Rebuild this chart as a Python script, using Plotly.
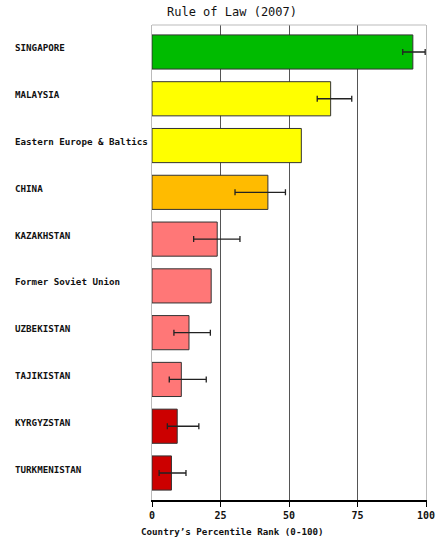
import plotly.graph_objects as go

categories = ["SINGAPORE", "MALAYSIA", "Eastern Europe & Baltics", "CHINA", "KAZAKHSTAN",
              "Former Soviet Union", "UZBEKISTAN", "TAJIKISTAN", "KYRGYZSTAN", "TURKMENISTAN"]
values = [95.2, 65.2, 54.5, 42.3, 23.8, 21.6, 13.5, 10.7, 9.2, 7.1]
err_low = [91.5, 60.3, None, 30.3, 15.2, None, 8.0, 6.3, 5.6, 2.6]
err_high = [99.7, 72.9, None, 48.7, 32.1, None, 21.3, 19.8, 17.1, 12.4]
colors = ["#00BB00", "#FFFF00", "#FFFF00", "#FFBB00", "#FF7777",
          "#FF7777", "#FF7777", "#FF7777", "#CC0000", "#CC0000"]
tick_vals = [0, 25, 50, 75, 100]
title_text = "Rule of Law (2007)"
x_title = "Country’s Percentile Rank (0-100)"

FONT = "DejaVu Sans Mono"

plus = [(h - v) if h is not None else 0 for v, h in zip(values, err_high)]
minus = [(v - l) if l is not None else 0 for v, l in zip(values, err_low)]
vis = [h is not None for h in err_high]

fig = go.Figure()
fig.add_trace(go.Bar(
    y=categories, x=values, orientation="h",
    marker=dict(color=colors, line=dict(color="#333333", width=1)),
    width=0.73, hoverinfo="skip",
))
ecats = [c for c, s in zip(categories, vis) if s]
evals = [v for v, s in zip(values, vis) if s]
eplus = [p for p, s in zip(plus, vis) if s]
eminus = [m for m, s in zip(minus, vis) if s]
fig.add_trace(go.Scatter(
    y=ecats, x=evals, mode="markers", marker=dict(size=0.1, color="rgba(0,0,0,0)"),
    error_x=dict(type="data", symmetric=False, array=eplus, arrayminus=eminus,
                 color="#222222", thickness=1.3, width=3),
    hoverinfo="skip", showlegend=False,
))

for c in categories:
    fig.add_annotation(x=(15 - 152) / 274, xref="paper", y=c, yref="y", text=c, showarrow=False,
                       xanchor="left", xshift=-2, yshift=4,
                       font=dict(family=FONT, size=9.2, color="#111", weight="bold"))

fig.add_annotation(text=x_title, xref="paper", yref="paper", x=(232 - 152) / 274, y=-31 / 475,
                   xanchor="center", yanchor="middle", showarrow=False,
                   font=dict(family=FONT, size=9.2, color="#111", weight="bold"))

fig.update_layout(
    width=436, height=539,
    margin=dict(l=152, r=10, t=25, b=39, autoexpand=False),
    paper_bgcolor="white", plot_bgcolor="white",
    showlegend=False,
    title=dict(text=title_text, x=232/436, xanchor="center", y=1-12/539, yanchor="middle",
               font=dict(family=FONT, size=12, color="#111")),
    font=dict(family=FONT, size=9, color="#111"),
)

fig.update_xaxes(range=[0, 100], tickvals=tick_vals, ticks="outside", ticklen=5, tickcolor="#000",
                 showline=True, linecolor="#000", linewidth=1.5, automargin=False,
                 showgrid=True, gridcolor="#555555", gridwidth=1, zeroline=False,
                 tickfont=dict(family=FONT, size=10, color="#111", weight="bold"))
fig.update_yaxes(categoryorder="array", categoryarray=categories, range=[9.577, -0.577],
                 showticklabels=False, showgrid=False, zeroline=False, automargin=False,
                 showline=True, linecolor="#BBBBBB", linewidth=1, mirror=True)
fig.add_shape(type="line", xref="paper", yref="paper", x0=0, x1=1, y0=1, y1=1,
              line=dict(color="#BBBBBB", width=1))

fig.write_html("out.html")
